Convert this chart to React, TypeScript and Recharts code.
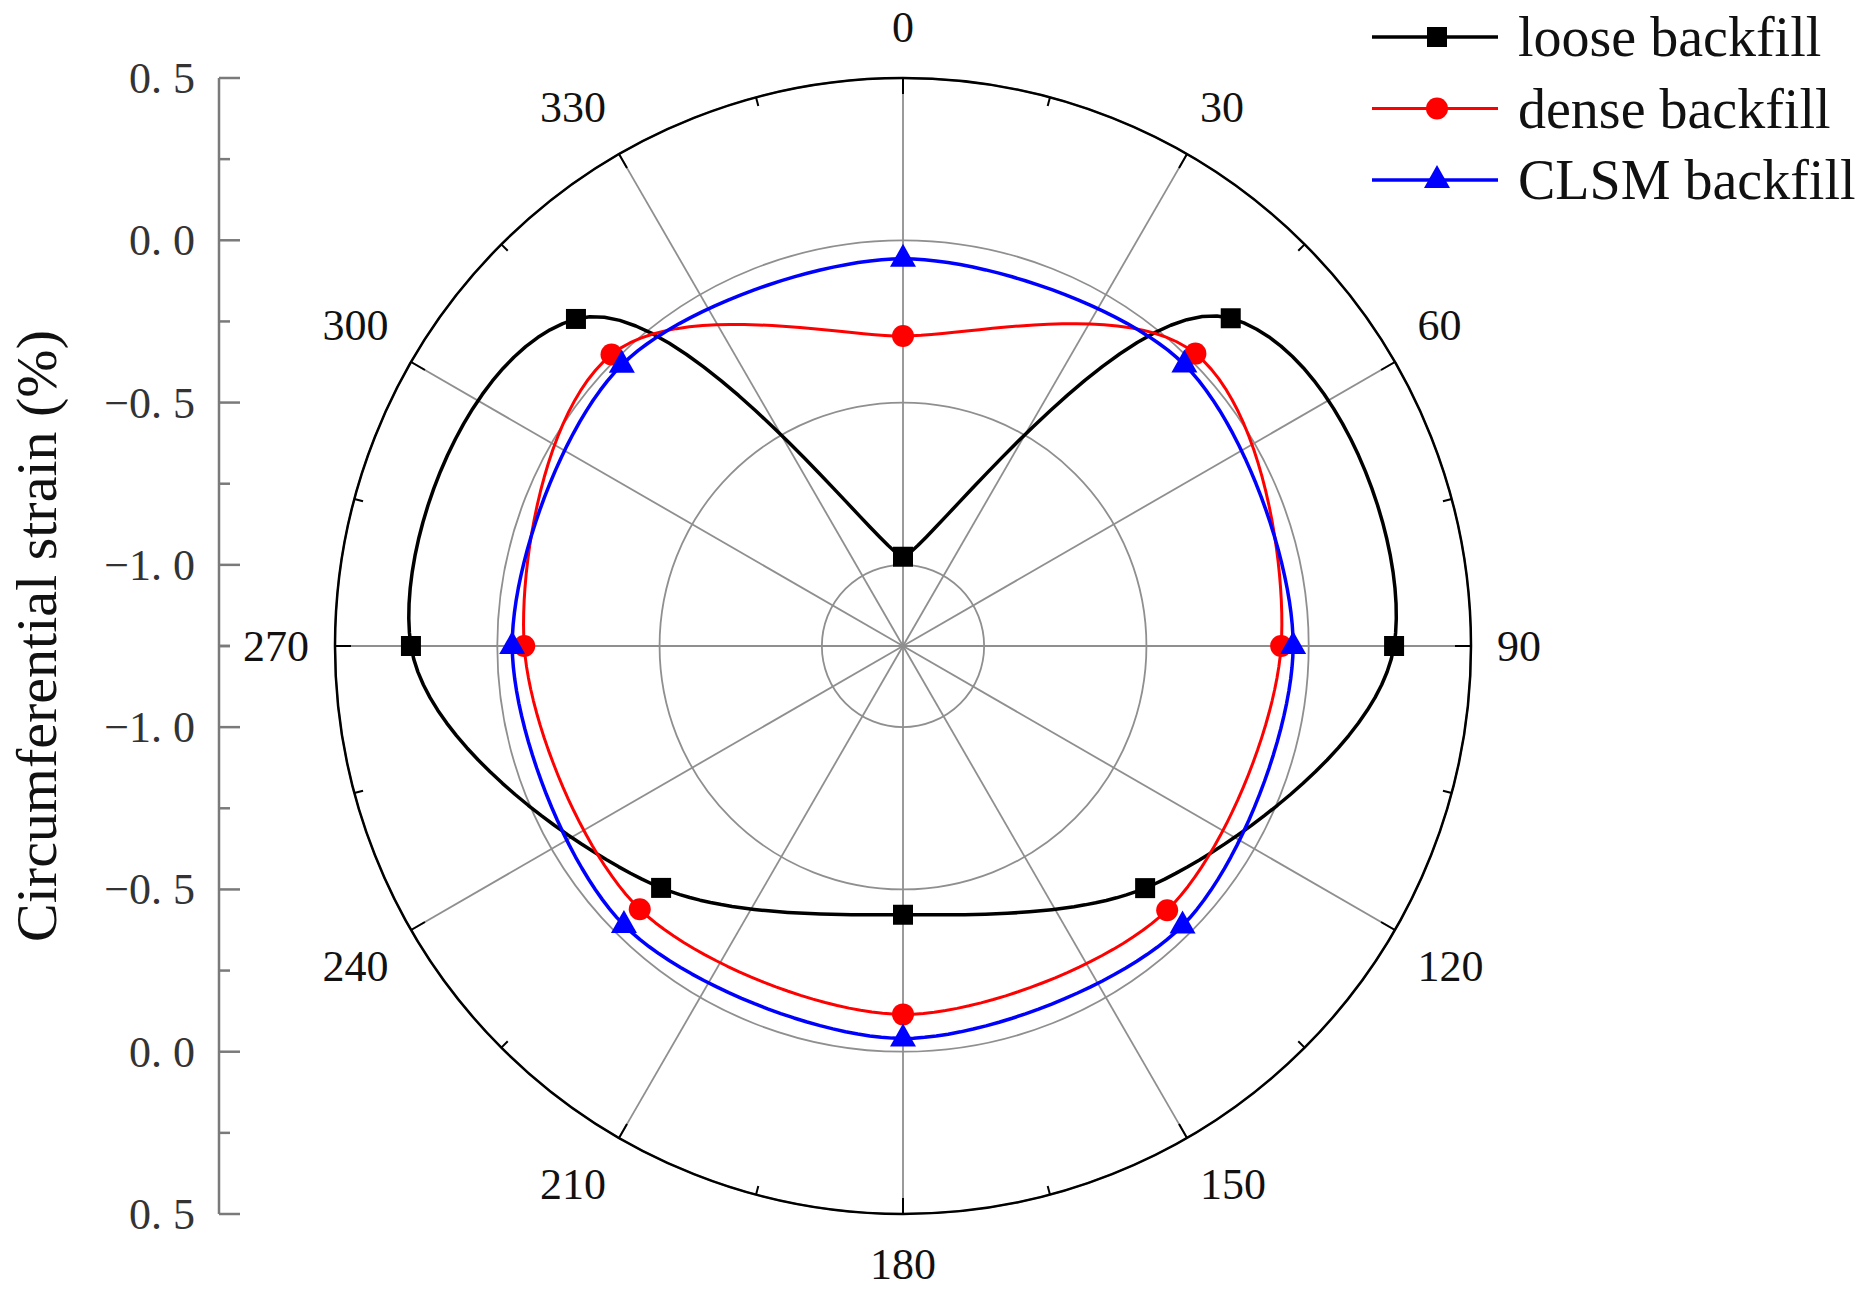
import React from 'react';
import {
  RadarChart,
  Radar,
  PolarGrid,
  PolarAngleAxis,
  PolarRadiusAxis,
  Legend,
  LineChart,
  XAxis,
  YAxis,
} from 'recharts';

// angle categories every 15 deg so spokes (30 deg) and measurements (45 deg) both land on a category
const angleCategories = [0, 15, 30, 45, 60, 75, 90, 105, 120, 135, 150, 165, 180, 195, 210, 225, 240, 255, 270, 285, 300, 315, 330, 345];
const labeledAngles = [0, 30, 60, 90, 120, 150, 180, 210, 240, 270, 300, 330];
const measuredAngles = [0, 45, 90, 135, 180, 225, 270, 315];

// circumferential strain (%) at each measured angle
const looseBackfill = [-0.975, 0.178, 0.263, -0.195, -0.422, -0.196, 0.266, 0.175];
const denseBackfill = [-0.295, 0.024, -0.085, -0.099, -0.115, -0.103, -0.083, 0.02];
const clsmBackfill = [-0.057, -0.024, -0.048, -0.032, -0.041, -0.034, -0.046, -0.025];

const strainDomain: [number, number] = [-1.25, 0.5];
const strainTicks = [-1.25, -1.0, -0.75, -0.5, -0.25, 0.0, 0.25, 0.5];
const gridRings = [-1.25, -1.0, -0.5, 0.0, 0.5];

const FONT = '"Liberation Serif", "Times New Roman", serif';
const CX = 903;
const CY = 646;
const R = 568;
const RAD = Math.PI / 180;

const series = [
  { key: 'loose', name: 'loose backfill', color: '#000000', marker: 'square', width: 3.5 },
  { key: 'dense', name: 'dense backfill', color: '#ff0000', marker: 'circle', width: 3 },
  { key: 'clsm', name: 'CLSM backfill', color: '#0000ff', marker: 'triangle', width: 3.5 },
];

const data = angleCategories.map((angle) => {
  const i = measuredAngles.indexOf(angle);
  return {
    angle,
    loose: i >= 0 ? looseBackfill[i] : null,
    dense: i >= 0 ? denseBackfill[i] : null,
    clsm: i >= 0 ? clsmBackfill[i] : null,
  };
});

const strainRows = strainTicks.map((v) => ({ v }));

function Marker({ type, x, y, color }: { type: string; x: number; y: number; color: string }) {
  if (type === 'square') return <rect x={x - 10} y={y - 10} width={20} height={20} fill={color} />;
  if (type === 'circle') return <circle cx={x} cy={y} r={11} fill={color} />;
  return <polygon points={`${x},${y - 15} ${x - 13},${y + 8} ${x + 13},${y + 8}`} fill={color} />;
}

// closed smooth curve through the radar points, tangents taken from the polar form r(angle)
function smoothPolarPath(pts: any[], k = 0.8, steps = 24) {
  const n = pts.length;
  const tangents = pts.map((p, i) => {
    const prev = pts[(i - 1 + n) % n];
    const next = pts[(i + 1) % n];
    let da = next.angle - p.angle;
    da = ((da + 540) % 360) - 180;
    const a = p.angle * RAD;
    const dr = (next.radius - prev.radius) / 2;
    const w = p.radius * da * RAD;
    return [
      k * (dr * Math.cos(a) - w * Math.sin(a)),
      k * (-dr * Math.sin(a) - w * Math.cos(a)),
    ];
  });
  let d = `M${pts[0].x},${pts[0].y}`;
  for (let i = 0; i < n; i++) {
    const p1 = pts[i];
    const p2 = pts[(i + 1) % n];
    const t1 = tangents[i];
    const t2 = tangents[(i + 1) % n];
    for (let s = 1; s <= steps; s++) {
      const t = s / steps;
      const tt = t * t;
      const ttt = tt * t;
      const h00 = 2 * ttt - 3 * tt + 1;
      const h10 = ttt - 2 * tt + t;
      const h01 = -2 * ttt + 3 * tt;
      const h11 = ttt - tt;
      const x = h00 * p1.x + h10 * t1[0] + h01 * p2.x + h11 * t2[0];
      const y = h00 * p1.y + h10 * t1[1] + h01 * p2.y + h11 * t2[1];
      d += `L${x.toFixed(2)},${y.toFixed(2)}`;
    }
  }
  return d + 'Z';
}

function SplineShape(props: any) {
  const { points, color, marker, width } = props;
  const pts = (points || []).filter((p: any) => p.value != null && Number.isFinite(p.x) && Number.isFinite(p.y));
  if (pts.length < 3) return <g />;
  return (
    <g>
      <path d={smoothPolarPath(pts)} fill="none" stroke={color} strokeWidth={width} strokeLinejoin="round" />
      {pts.map((p: any, i: number) => (
        <Marker key={i} type={marker} x={p.x} y={p.y} color={color} />
      ))}
    </g>
  );
}

function AngleTick(props: any) {
  const { payload } = props;
  const value = Number(payload.value);
  const a = payload.coordinate * RAD;
  const ux = Math.cos(a);
  const uy = -Math.sin(a);
  const major = value % 30 === 0;
  const len = major ? 16 : 9;
  const text = String(value);
  const px = CX + R * ux;
  const py = CY + R * uy;
  const ax = px + ux * 26;
  const ay = py + uy * 28 + (Math.abs(uy) > 0.01 ? Math.sign(uy) * 8 : 0);
  const anchor = ux > 0.01 ? 'start' : ux < -0.01 ? 'end' : 'middle';
  const glyph = 29;
  const baseline = uy < -0.01 ? ay : uy > 0.01 ? ay + glyph : ay + glyph / 2;
  return (
    <g>
      <line x1={px} y1={py} x2={CX + (R - len) * ux} y2={CY + (R - len) * uy} stroke="#000" strokeWidth={2} />
      {major && (
        <text x={ax} y={baseline} textAnchor={anchor} fontSize={44} fontFamily={FONT} fill="#111">
          {text}
        </text>
      )}
    </g>
  );
}

const fmtStrain = (v: number) => v.toFixed(1).replace('-', '\u2212').replace('.', '. ');

function StrainTick(props: any) {
  const { x, y, payload } = props;
  const v = payload.value;
  const major = Math.abs(v * 2 - Math.round(v * 2)) < 1e-6;
  const axisX = x + 24;
  return (
    <g>
      <line x1={axisX} x2={axisX + (major ? 22 : 11)} y1={y} y2={y} stroke="#7a7a7a" strokeWidth={2.5} />
      {major && (
        <text x={x} y={y + 15} textAnchor="end" fontSize={44} fontFamily={FONT} fill="#333">
          {fmtStrain(v)}
        </text>
      )}
    </g>
  );
}

function StrainAxis({ top, height, marginTop, marginBottom, reversed }: any) {
  return (
    <div style={{ position: 'absolute', left: 0, top }}>
      <LineChart width={240} height={height} data={strainRows} margin={{ top: marginTop, bottom: marginBottom, left: 0, right: 0 }}>
        <XAxis dataKey="v" hide />
        <YAxis
          type="number"
          domain={strainDomain}
          ticks={strainTicks}
          interval={0}
          reversed={reversed}
          allowDecimals
          allowDataOverflow
          width={219}
          axisLine={{ stroke: '#7a7a7a', strokeWidth: 2.5 }}
          tickLine={false}
          tickSize={0}
          tickMargin={24}
          tick={(p: any) => <StrainTick {...p} />}
        />
      </LineChart>
    </div>
  );
}

const renderLegend = ({ payload }: any) => {
  const entries = [...(payload || [])].sort(
    (a: any, b: any) => series.findIndex((s) => s.key === a.dataKey) - series.findIndex((s) => s.key === b.dataKey)
  );
  return (
    <svg width={501} height={215}>
      {entries.map((entry: any, i: number) => {
        const s = series.find((it) => it.key === entry.dataKey) || series[i];
        const y = 37 + i * 71.5;
        return (
          <g key={s.key}>
            <line x1={7} x2={133} y1={y} y2={y} stroke={s.color} strokeWidth={s.width} />
            <Marker type={s.marker} x={72} y={y} color={s.color} />
            <text x={153} y={y + 19} fontSize={56} fontFamily={FONT} fill="#111">
              {entry.value}
            </text>
          </g>
        );
      })}
    </svg>
  );
};

export default function App() {
  return (
    <div style={{ position: 'absolute', left: 0, top: 0, width: 1866, height: 1291, background: '#fff', fontFamily: FONT }}>
      <div style={{ position: 'absolute', left: 0, top: 0 }}>
        <RadarChart width={1866} height={1291} data={data} cx={CX} cy={CY} outerRadius={R} margin={{ top: 0, right: 0, bottom: 0, left: 0 }}>
          <PolarGrid gridType="circle" polarAngles={labeledAngles.map((a) => 90 - a)} stroke="#8f8f8f" strokeWidth={1.8} />
          <PolarRadiusAxis
            type="number"
            scale="linear"
            domain={strainDomain}
            ticks={gridRings as any}
            tickCount={8}
            allowDecimals
            allowDataOverflow
            tick={false}
            axisLine={false}
          />
          <PolarAngleAxis
            dataKey="angle"
            axisLineType="circle"
            axisLine={{ stroke: '#000', strokeWidth: 2.5 }}
            tickLine={false}
            tick={(p: any) => <AngleTick {...p} />}
          />
          {series.map((s) => (
            <Radar
              key={s.key}
              name={s.name}
              dataKey={s.key}
              stroke={s.color}
              fill={s.color}
              fillOpacity={0}
              dot={false}
              isAnimationActive={false}
              shape={(p: any) => <SplineShape {...p} color={s.color} marker={s.marker} width={s.width} />}
            />
          ))}
          <Legend
            layout="vertical"
            align="right"
            verticalAlign="top"
            content={renderLegend}
            wrapperStyle={{ left: 1365, top: 0, right: 'auto', width: 501 }}
          />
        </RadarChart>
      </div>
      <StrainAxis top={0} height={660} marginTop={78} marginBottom={14} reversed={false} />
      <StrainAxis top={632} height={660} marginTop={14} marginBottom={78} reversed />
      <svg style={{ position: 'absolute', left: 0, top: 0 }} width={120} height={1291}>
        <text x={56} y={636} transform="rotate(-90 56 636)" textAnchor="middle" fontSize={58} fontFamily={FONT} fill="#111">
          Circumferential strain (%)
        </text>
      </svg>
    </div>
  );
}
